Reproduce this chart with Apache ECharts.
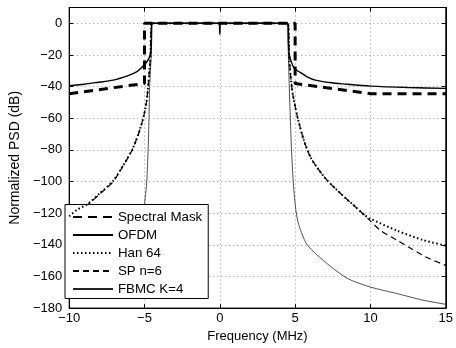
<!DOCTYPE html>
<html>
<head>
<meta charset="utf-8">
<script src="https://cdn.jsdelivr.net/npm/echarts@6/dist/echarts.min.js"></script>
<style>
  html, body { margin: 0; padding: 0; background: #fff; }
  #chart { width: 456px; height: 348px; }
</style>
</head>
<body>
<div id="chart"></div>
<script>
// values (frequency in MHz, PSD in dB)
const maskFreq = [-10, -5, -5, 5, 5, 10, 15];
const maskPsd = [-44.5, -38, 0, 0, -38, -44.5, -44.5];

const ofdmFreq = [-10, -9, -8.16, -7.08, -6, -5.5, -5.2, -4.92, -4.7, -4.6, -4.55, -4.52,
  -0.05, 0, 0.05, 4.52, 4.56, 4.6, 4.7, 4.94, 5.26, 5.8, 6.34, 7.42, 8.18, 10, 12.5, 15];
const ofdmPsd = [-39.5, -38.5, -37.4, -35.9, -32.7, -30.5, -28, -25.3, -22, -19, -12, 0,
  0, -7, 0, 0, -12, -19, -23, -28.5, -30.6, -33.8, -35.9, -37.6, -38.3, -39.7, -40.6, -41.1];

const hanFreq = [-10, -9.5, -8.75, -7.99, -7.12, -6.47, -5.82, -5.39, -5.06, -4.85, -4.7, -4.6, -4.52,
  4.52, 4.6, 4.7, 4.83, 5.15, 5.58, 6.02, 6.45, 7.1, 8.18, 9.0, 9.58, 10, 11.75, 13.5, 15];
const hanPsd = [-122, -118, -114, -107.6, -100, -90.7, -80, -69.6, -59, -48.5, -33, -20, 0,
  0, -20, -33, -44, -59, -74, -84.6, -91, -99, -109, -116, -121, -123.5, -131, -137, -140.5];

const spFreq = [-10, -9.5, -8.75, -7.99, -7.12, -6.47, -5.82, -5.39, -5.06, -4.85, -4.7, -4.6, -4.52,
  4.52, 4.6, 4.7, 4.83, 5.15, 5.58, 6.02, 6.45, 7.1, 8.18, 9.0, 9.58, 10, 10.68, 11.75, 12.8, 13.9, 15];
const spPsd = [-123, -119, -114.5, -108, -100.5, -91, -80, -69.6, -59, -48.5, -33, -20, 0,
  0, -20, -33, -44, -59, -74, -84.6, -91, -99, -109, -116, -121, -125, -131, -137, -143, -148.7, -153];

const fbmcFreq = [-10, -8, -6, -5.37, -5.1, -4.95, -4.85, -4.76, -4.7, -4.66, -4.55, -4.52, -4.48,
  4.5, 4.52, 4.55, 4.61, 4.68, 4.76, 4.87, 4.96, 5.06, 5.2, 5.37, 5.6, 5.8, 6.4, 7.4, 8.5, 10, 11.75, 13.5, 15];
const fbmcPsd = [-166.7, -158, -141, -131, -122, -110, -100, -80, -60, -40, -20, -10, 0,
  0, -10, -20, -40, -60, -80, -100, -110, -119, -126, -131, -136.5, -140, -146, -154, -161.4, -166.7, -170.8, -175, -177.6];

const legendNames = ['Spectral Mask', 'OFDM', 'Han 64', 'SP n=6', 'FBMC K=4'];

const zip = (xs, ys) => xs.map((x, i) => [x, ys[i]]);
const minus = (v) => String(v).replace('-', '\u2212');
const font = 'Liberation Sans, Arial, Helvetica, sans-serif';

const chart = echarts.init(document.getElementById('chart'), null, { renderer: 'canvas' });

const gridLine = { show: true, lineStyle: { color: '#999', width: 1, type: [1, 3] } };
const axisLine = { show: true, onZero: false, lineStyle: { color: '#000', width: 1 } };
const tick = { show: true, inside: true, length: 4, lineStyle: { color: '#000' } };

function line(name, data, style, z, smooth) {
  return {
    name: name,
    type: 'line',
    data: data,
    symbol: 'none',
    z: z,
    smooth: smooth,
    lineStyle: style,
    itemStyle: { color: style.color },
    emphasis: { disabled: true },
  };
}

const option = {
  animation: false,
  backgroundColor: '#fff',
  grid: { left: 65, right: 6, top: 7.5, bottom: 39, show: true, borderColor: '#000', borderWidth: 1 },
  legend: {
    data: legendNames,
    orient: 'vertical',
    left: 65,
    top: 204.5,
    itemWidth: 40,
    itemHeight: 14,
    itemGap: 5,
    padding: [6, 6, 3, 7],
    borderColor: '#000',
    borderWidth: 1,
    backgroundColor: '#fff',
    selectedMode: false,
    itemStyle: { opacity: 0 },
    textStyle: { fontFamily: font, fontSize: 13.3, color: '#000' },
  },
  xAxis: [
    {
      type: 'value',
      min: -10,
      max: 15,
      interval: 5,
      name: 'Frequency (MHz)',
      nameLocation: 'middle',
      nameGap: 21,
      nameTextStyle: { fontFamily: font, fontSize: 13, color: '#000' },
      axisLine: axisLine,
      axisTick: tick,
      splitLine: gridLine,
      axisLabel: { fontFamily: font, fontSize: 13, color: '#000', margin: 4, formatter: minus },
    },
    {
      type: 'value',
      position: 'top',
      min: -10,
      max: 15,
      interval: 5,
      axisLine: axisLine,
      axisTick: tick,
      splitLine: { show: false },
      axisLabel: { show: false },
    },
  ],
  yAxis: [
    {
      type: 'value',
      min: -180,
      max: 10,
      interval: 20,
      name: 'Normalized PSD (dB)',
      nameLocation: 'middle',
      nameGap: 42,
      nameTextStyle: { fontFamily: font, fontSize: 14, color: '#000' },
      axisLine: axisLine,
      axisTick: tick,
      splitLine: gridLine,
      axisLabel: {
        fontFamily: font,
        fontSize: 13,
        color: '#000',
        margin: 7,
        formatter: (v) => (v > 0 ? '' : minus(v)),
      },
    },
    {
      type: 'value',
      position: 'right',
      min: -180,
      max: 10,
      interval: 20,
      axisLine: axisLine,
      axisTick: tick,
      splitLine: { show: false },
      axisLabel: { show: false },
    },
  ],
  series: [
    line('FBMC K=4', zip(fbmcFreq, fbmcPsd), { color: '#222', width: 0.8, type: 'solid' }, 2, 0.25),
    line('SP n=6', zip(spFreq, spPsd), { color: '#000', width: 1.2, type: [6, 4] }, 3, 0.25),
    line('Han 64', zip(hanFreq, hanPsd), { color: '#000', width: 2, type: [1.5, 2.5] }, 4, 0.25),
    line('OFDM', zip(ofdmFreq, ofdmPsd), { color: '#000', width: 1.4, type: 'solid' }, 5, 0.25),
    line('Spectral Mask', zip(maskFreq, maskPsd), { color: '#000', width: 3, type: [9, 6] }, 6, false),
  ],
};

chart.setOption(option);

window.addEventListener('resize', () => {
  chart.resize();
});
</script>
</body>
</html>
